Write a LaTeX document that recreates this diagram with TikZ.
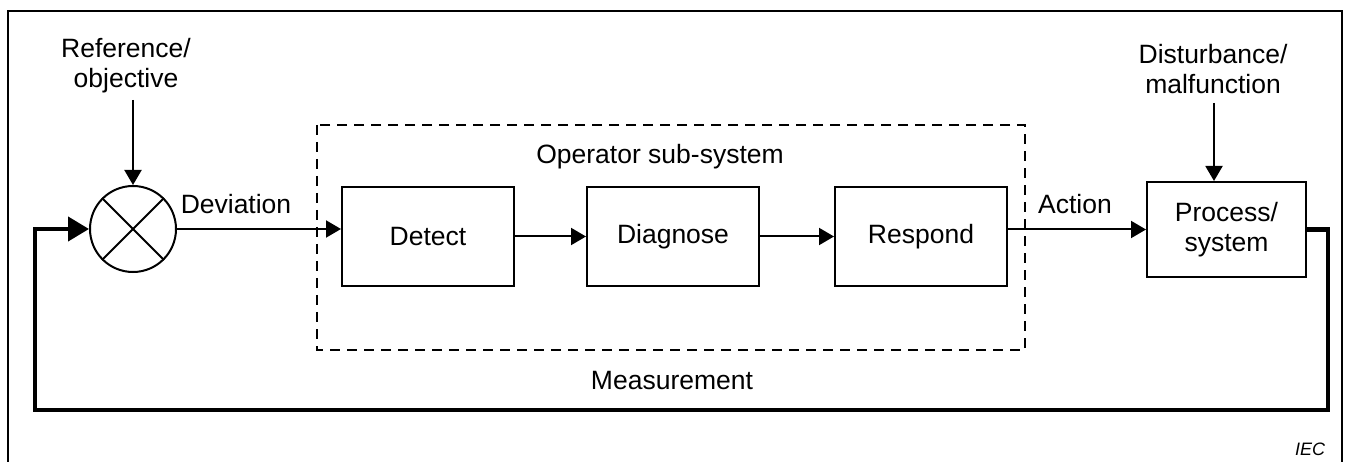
\documentclass[tikz,border=0pt]{standalone}
\usepackage{fontspec}
\setmainfont{Liberation Sans}
\usetikzlibrary{arrows.meta}

\tikzset{
    blockbox/.style={draw, rectangle, line width=2pt, inner sep=0pt, align=center},
    flow/.style={line width=2pt, -{Triangle[length=15pt,width=17pt]}},
    fbline/.style={line width=4.2pt, -{Triangle[length=21pt,width=24pt]}},
    lbl/.style={inner sep=0pt, align=center}
}

\begin{document}
\begin{tikzpicture}[x=1pt, y=-1pt, font=\fontsize{26.5}{30}\selectfont]
\useasboundingbox (0,0) rectangle (1352,462);
% Outer frame
\draw[line width=1.8pt] (8,470) -- (8,11) -- (1342,11) -- (1342,470);

% Summing junction
\node[draw, circle, line width=2pt, minimum size=86pt, inner sep=0pt] (Sum) at (133,229) {};
\draw[line width=2pt] (Sum.45) -- (Sum.225);
\draw[line width=2pt] (Sum.135) -- (Sum.315);
\node[lbl] (Ref) at (126,66) {Reference/\\objective};

% Operator sub-system (dashed frame)
\draw[line width=2pt, dash pattern=on 10pt off 7pt] (317,125) rectangle (1025,350);
\node[lbl] (OpSys) at (660,157) {Operator sub-system};

% Blocks
\node[blockbox, minimum width=172pt, minimum height=99pt] (Detect) at (428,236.5) {Detect};
\node[blockbox, minimum width=172pt, minimum height=99pt] (Diagnose) at (673,236.5) {Diagnose};
\node[blockbox, minimum width=172pt, minimum height=99pt] (Respond) at (921,236.5) {Respond};
\node[blockbox, minimum width=159pt, minimum height=95pt] (Process) at (1226.5,229.5) {Process/\\system};
\node[lbl] (Dist) at (1213,69) {Disturbance/\\malfunction};

% Signal labels
\node[lbl] (Dev) at (236,204) {Deviation};
\node[lbl] (Act) at (1075,204) {Action};
\node[lbl] (Meas) at (672,381) {Measurement};
\node[lbl, font=\fontsize{18}{20}\selectfont\itshape] (IEC) at (1310,449) {IEC};

% Connectors
\coordinate (RefEnd) at (133,100);
\coordinate (DistEnd) at (1214,103);
\draw[flow] (RefEnd) -- (Sum.north);
\draw[flow] (Sum.east) -- (Sum.east -| Detect.west);
\draw[flow] (Detect.east) -- (Diagnose.west);
\draw[flow] (Diagnose.east) -- (Respond.west);
\draw[flow] (Process.west -| Respond.east) -- (Process.west);
\draw[flow] (DistEnd) -- (DistEnd |- Process.north);

% Feedback loop
\coordinate (fbR) at (1328,410);
\coordinate (fbL) at (35,410);
\draw[fbline] (Process.east) -| (fbR) -- (fbL) |- (Sum.west);

\end{tikzpicture}
\end{document}
